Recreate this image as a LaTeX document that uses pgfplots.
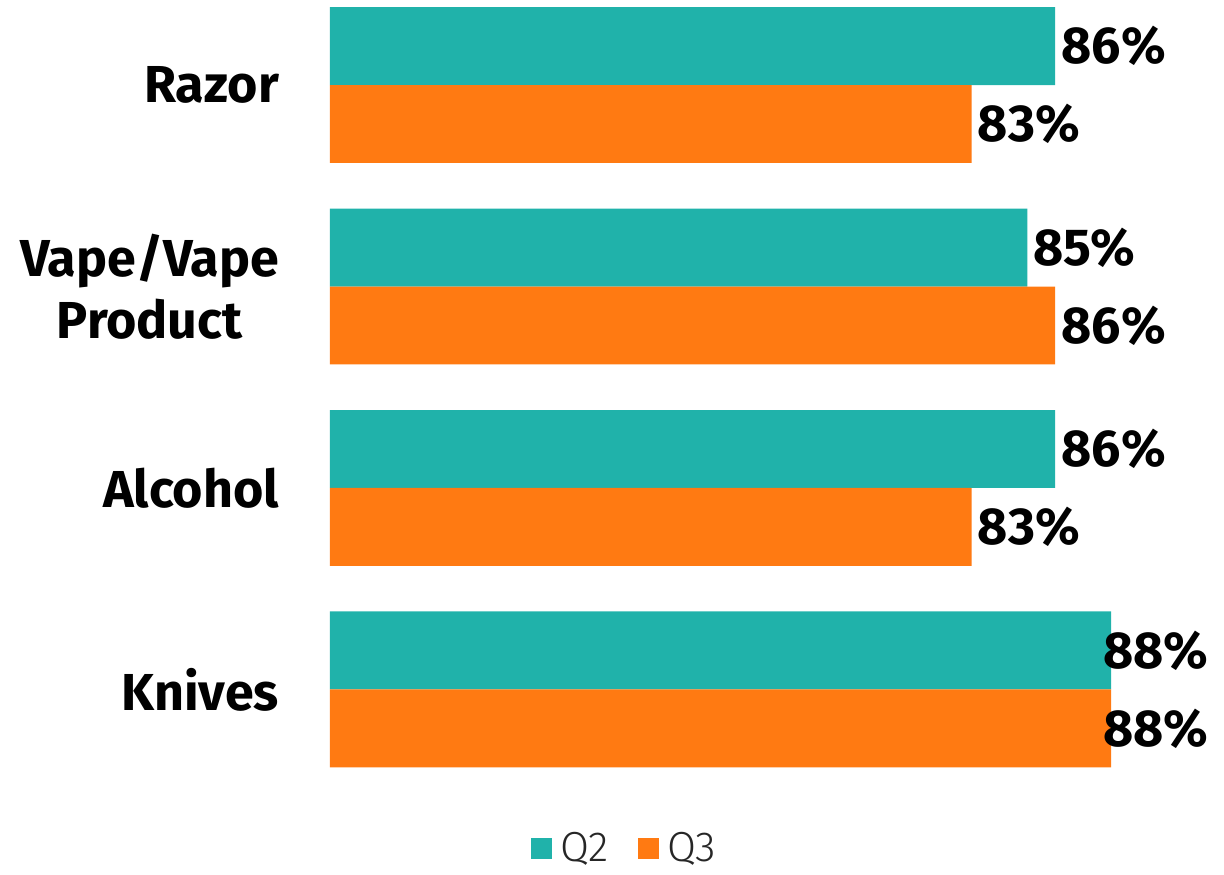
\documentclass[border=0pt]{standalone}
\usepackage{pgfplots}
\pgfplotsset{compat=1.18}
\usepackage{fontspec}
\setmainfont{Fira Sans}
\newfontfamily\lightfont{Fira Sans Light}
\definecolor{tealc}{HTML}{20B2AA}
\definecolor{orangec}{HTML}{FF7A12}
\begin{document}
\begin{tikzpicture}
\useasboundingbox (-165pt,-41.9pt) rectangle (447pt,395.1pt);
\begin{axis}[
  at={(0pt,0pt)}, anchor=south west,
  scale only axis, width=390.5pt, height=395.1pt,
  xbar, xmin=60, xmax=88, ymin=-0.5, ymax=3.422,
  clip=false,
  axis line style={draw=none},
  xtick=\empty,
  ytick={0,1,2,3},
  yticklabels={Knives,Alcohol,{Vape/Vape\\Product},Razor},
  ytick style={draw=none},
  yticklabel style={font=\fontsize{26}{31}\selectfont\bfseries, align=center, anchor=east, inner sep=0pt, xshift=-21pt},
  bar width=0.387,
  point meta=x,
  visualization depends on={rawx \as \xv},
  nodes near coords={\pgfmathprintnumber[assume math mode=true]{\pgfplotspointmeta}\%},
  nodes near coords style={font=\fontsize{26}{30}\selectfont\bfseries, anchor=west, inner sep=3pt,
    xshift={\xv>87 ? -7pt : 0pt}},
  legend style={at={(0.381,-0.074)}, anchor=center, draw=none, legend columns=2,
    font=\fontsize{21}{24}\selectfont\lightfont\color{black!85},
    /tikz/every even column/.append style={column sep=11pt},
    nodes={inner sep=4pt}},
  legend image code/.code={\fill[#1] (0pt,-5.25pt) rectangle (10.5pt,5.25pt);},
]
\addplot[fill=tealc, draw=none, bar shift=0.1935] coordinates {(88,0) (86,1) (85,2) (86,3)};
\addplot[fill=orangec, draw=none, bar shift=-0.1935] coordinates {(88,0) (83,1) (86,2) (83,3)};
\legend{Q2,Q3}
\end{axis}
\end{tikzpicture}
\end{document}
